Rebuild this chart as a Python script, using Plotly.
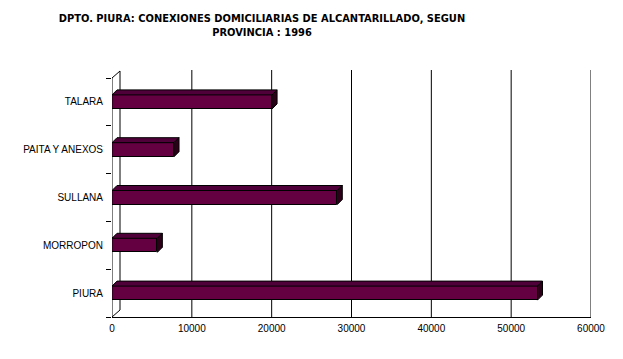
import plotly.graph_objects as go

# ---- data ----
provincias = ["PIURA", "MORROPON", "SULLANA", "PAITA Y ANEXOS", "TALARA"]
conexiones = [53300, 5680, 28220, 7770, 20050]
x_ticks = [0, 10000, 20000, 30000, 40000, 50000, 60000]

# ---- geometry / style ----
W, H = 623, 359
L, R, T, B = 112, 591, 70, 317          # plot area in px
XMAX = 60000
px_x = (R - L) / XMAX                   # px per data unit (x)
cat_px = (B - 78) / len(provincias)     # px per category
y_lo = -0.5
y_hi = y_lo + (B - T) / cat_px

bar_w = 14 / cat_px
bdx = 5 / px_x
bdy = 5 / cat_px
wdx = 8 / px_x
wdy = 7 / cat_px

FRONT = "#640042"
TOP = "#500038"
SIDE = "#2c0018"
font = dict(family="Liberation Sans, Arial, sans-serif", size=10, color="black")

fig = go.Figure()

idx = list(range(len(provincias)))

# front faces
fig.add_trace(go.Bar(
    x=conexiones, y=idx, orientation="h", width=bar_w,
    marker=dict(color=FRONT, line=dict(color="black", width=1)),
    hoverinfo="skip", showlegend=False,
))

# top and side faces (3D effect)
for i, v in zip(idx, conexiones):
    yt = i + bar_w / 2
    yb = i - bar_w / 2
    fig.add_trace(go.Scatter(
        x=[0, v, v + bdx, bdx, 0], y=[yt, yt, yt + bdy, yt + bdy, yt],
        mode="lines", fill="toself", fillcolor=TOP,
        line=dict(color="black", width=1), hoverinfo="skip", showlegend=False,
    ))
    fig.add_trace(go.Scatter(
        x=[v, v + bdx, v + bdx, v, v], y=[yb, yb + bdy, yt + bdy, yt, yb],
        mode="lines", fill="toself", fillcolor=SIDE,
        line=dict(color="black", width=1), hoverinfo="skip", showlegend=False,
    ))

shapes = []
# vertical gridlines
for t in x_ticks[1:]:
    shapes.append(dict(type="line", xref="x", yref="paper", x0=t, x1=t, y0=0, y1=1,
                       line=dict(color="black", width=1), layer="below"))
# walls
shapes += [
    dict(type="line", xref="x", yref="y", x0=0, x1=0, y0=y_lo, y1=4.5,
         line=dict(color="black", width=1)),
    dict(type="line", xref="x", yref="y", x0=wdx, x1=wdx, y0=y_lo + wdy, y1=4.5 + wdy,
         line=dict(color="black", width=1), layer="below"),
    dict(type="line", xref="x", yref="y", x0=0, x1=wdx, y0=4.5, y1=4.5 + wdy,
         line=dict(color="black", width=1)),
    dict(type="line", xref="x", yref="y", x0=0, x1=wdx, y0=y_lo, y1=y_lo + wdy,
         line=dict(color="black", width=1)),
]

fig.update_layout(
    width=W, height=H,
    margin=dict(l=L, r=W - R, t=T, b=H - B, pad=0),
    paper_bgcolor="white", plot_bgcolor="white",
    bargap=0,
    shapes=shapes,
    font=font,
    title=dict(
        text="DPTO. PIURA: CONEXIONES DOMICILIARIAS DE ALCANTARILLADO, SEGUN<br>PROVINCIA : 1996",
        x=262 / W, xref="container", xanchor="center",
        y=1 - 22 / H, yref="container", yanchor="top",
        font=dict(family="DejaVu Sans Condensed, Liberation Sans Narrow, sans-serif",
                  size=11, color="black", weight="bold"),
    ),
    xaxis=dict(
        range=[0, XMAX], tickvals=x_ticks, tickformat="d",
        showgrid=False, zeroline=False, showline=True, linecolor="black", linewidth=1,
        ticks="outside", ticklen=2, tickcolor="rgba(0,0,0,0)", tickfont=font, fixedrange=True,
    ),
    yaxis=dict(
        range=[y_lo, y_hi], tickvals=idx, ticktext=provincias,
        showgrid=False, zeroline=False, showline=False,
        ticks="outside", ticklen=6, tickcolor="rgba(0,0,0,0)", tickfont=font, fixedrange=True,
        minor=dict(tickvals=[i - 0.5 for i in range(len(provincias) + 1)],
                   ticks="outside", ticklen=5, tickcolor="black", tickwidth=1, showgrid=False),
    ),
)

fig.write_html("out.html", config={"displayModeBar": False},
               post_script="document.body.style.margin='0';")
